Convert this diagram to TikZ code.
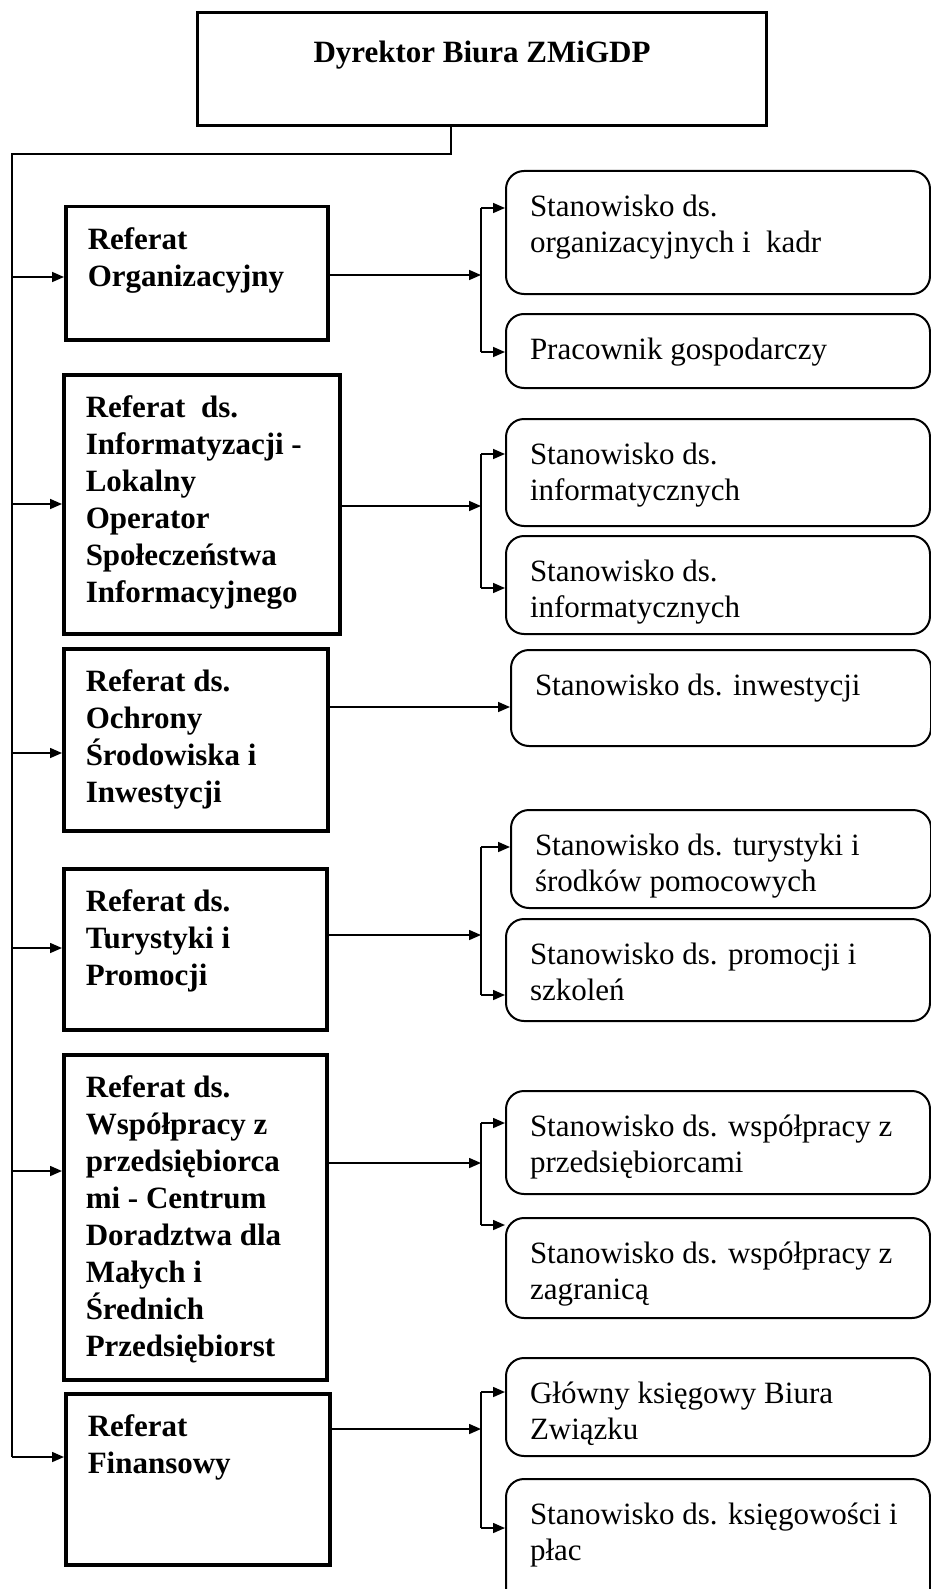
\documentclass[tikz,border=0pt]{standalone}
\usepackage{fontspec}
\setmainfont{Liberation Serif}
\usepackage{tikz}
\tikzset{conn/.style={line width=1.6pt},
         dirbox/.style={draw,line width=3pt,anchor=north west,inner xsep=10pt,inner ysep=28pt,
            font=\fontsize{31}{37}\selectfont\bfseries,
            execute at begin node={\begin{minipage}[t][57pt][t]{549pt}\centering},
            execute at end node={\end{minipage}}},
         refbox/.style 2 args={draw,line width=3.5pt,anchor=north west,inner xsep=22pt,inner ysep=21pt,
            font=\fontsize{31}{37}\selectfont\bfseries,
            execute at begin node={\begin{minipage}[t][\dimexpr#2pt-42pt\relax][t]{\dimexpr#1pt-44pt\relax}\raggedright},
            execute at end node={\end{minipage}}},
         stbox/.style 2 args={draw,line width=2pt,rounded corners=18pt,anchor=north west,inner xsep=24pt,inner ysep=24pt,
            font=\fontsize{31}{36}\selectfont,
            execute at begin node={\begin{minipage}[t][\dimexpr#2pt-48pt\relax][t]{\dimexpr#1pt-48pt\relax}\raggedright},
            execute at end node={\end{minipage}}}}
\usetikzlibrary{arrows.meta}

\begin{document}
\begin{tikzpicture}[x=1pt,y=-1pt,>={Triangle[length=12pt,width=10pt]}]
\useasboundingbox (0,0) rectangle (930,1589);

%% director
\node[dirbox] (dyr) at (196,11) {Dyrektor Biura ZMiGDP};

%% referaty
\node[refbox={262}{133}] (ref1) at (64,205) {Referat\\Organizacyjny};
\node[refbox={276}{259}] (ref2) at (62,373) {Referat~ ds.\\Informatyzacji -\\Lokalny\\Operator\\Społeczeństwa\\Informacyjnego};
\node[refbox={264}{182}] (ref3) at (62,647) {Referat ds.\\Ochrony\\Środowiska i\\Inwestycji};
\node[refbox={263}{161}] (ref4) at (62,867) {Referat ds.\\Turystyki i\\Promocji};
\node[refbox={263}{325}] (ref5) at (62,1053) {Referat ds.\\Współpracy z\\przedsiębiorca\\mi - Centrum\\Doradztwa dla\\Małych i\\Średnich\\Przedsiębiorst};
\node[refbox={264}{171}] (ref6) at (64,1392) {Referat\\Finansowy};

%% stanowiska
\node[stbox={424}{123}] (st1a) at (505,170) {Stanowisko ds.\\organizacyjnych i~ kadr};
\node[stbox={424}{74}] (st1b) at (505,313) {Pracownik gospodarczy};
\node[stbox={424}{107}] (st2a) at (505,418) {Stanowisko ds.\\informatycznych};
\node[stbox={424}{98}] (st2b) at (505,535) {Stanowisko ds.\\informatycznych};
\node[stbox={420}{96}] (st3) at (510,649) {Stanowisko ds. inwestycji};
\node[stbox={420}{98}] (st4a) at (510,809) {Stanowisko ds. turystyki i\\środków pomocowych};
\node[stbox={424}{102}] (st4b) at (505,918) {Stanowisko ds. promocji i\\szkoleń};
\node[stbox={424}{103}] (st5a) at (505,1090) {Stanowisko ds. współpracy z\\przedsiębiorcami};
\node[stbox={424}{100}] (st5b) at (505,1217) {Stanowisko ds. współpracy z\\zagranicą};
\node[stbox={424}{98}] (st6a) at (505,1357) {Główny księgowy Biura\\Związku};
\node[stbox={424}{150}] (st6b) at (505,1478) {Stanowisko ds. księgowości i\\płac};

%% bus on the left
\coordinate (busTop) at (12,154);
\coordinate (busBot) at (12,1457);
\draw[conn] ([xshift=-31pt]dyr.south) |- (busTop) -- (busBot);
\foreach \i/\y in {1/277,2/504,3/753,4/948,5/1171,6/1457}
  \draw[conn,->] (busTop |- 0,\y) -- (ref\i.west |- 0,\y);

%% brackets to the right
\foreach \i/\ym/\ya/\yb in {1/275/208/352,2/506/454/588,4/935/847/995,5/1163/1123/1225,6/1429/1392/1528} {
  \coordinate (j\i) at (481,\ym);
  \draw[conn,->] (ref\i.east |- j\i) -- (j\i);
  \draw[conn] (j\i |- 0,\ya) -- (j\i |- 0,\yb);
  \draw[conn,->] (j\i |- 0,\ya) -- (st\i a.west |- 0,\ya);
  \draw[conn,->] (j\i |- 0,\yb) -- (st\i b.west |- 0,\yb);
}
\draw[conn,->] (ref3.east |- 0,707) -- (st3.west |- 0,707);

\end{tikzpicture}
\end{document}
